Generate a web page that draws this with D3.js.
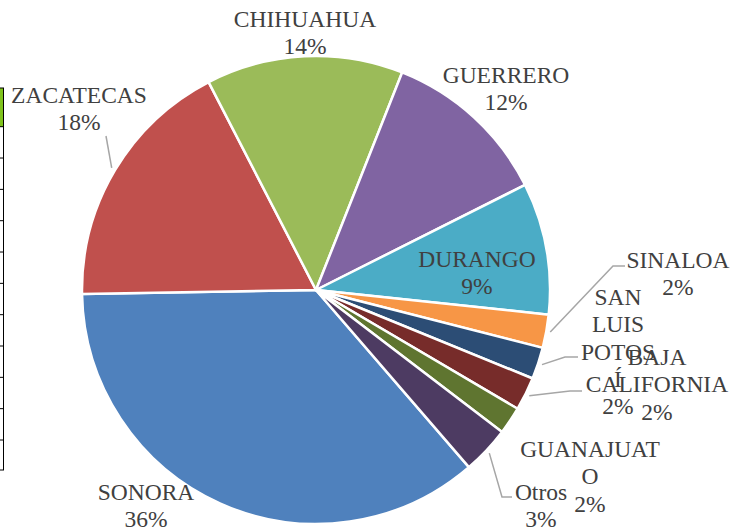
<!DOCTYPE html>
<html>
<head>
<meta charset="utf-8">
<script src="https://cdn.jsdelivr.net/npm/d3@7/dist/d3.min.js"></script>
<style>
  html, body { margin: 0; padding: 0; background: #ffffff; }
  svg { display: block; }
</style>
</head>
<body>
<svg id="chart" width="735" height="529"></svg>
<script>
// ---- data ----
const categories = ["SONORA", "ZACATECAS", "CHIHUAHUA", "GUERRERO", "DURANGO",
                    "SINALOA", "SAN LUIS POTOSÍ", "BAJA CALIFORNIA", "GUANAJUATO", "Otros"];
const values = [36.1, 17.7, 13.6, 11.6, 9.1, 2.3, 2.2, 2.3, 1.9, 3.3];
const labelLines = [
  ["SONORA"], ["ZACATECAS"], ["CHIHUAHUA"], ["GUERRERO"], ["DURANGO"],
  ["SINALOA"], ["SAN", "LUIS", "POTOS", "Í"], ["BAJA", "CALIFORNIA"],
  ["GUANAJUAT", "O"], ["Otros"]
];
const colors = ["#4F81BD", "#C0504D", "#9BBB59", "#8064A2", "#4BACC6",
                "#F79646", "#2C4D75", "#772C2A", "#5F7530", "#4D3B62"];

// ---- layout (positions kept separate from data) ----
const cx = 316, cy = 290, R = 234;
const startDeg = 139.2;
const labelLayout = [
  { x: 146, y: 500, leader: null },
  { x: 79,  y: 103, leader: "straight" },
  { x: 305, y: 27,  leader: null },
  { x: 506, y: 83,  leader: null },
  { x: 477, y: 267, leader: null },
  { x: 678, y: 268, leader: [[613, 266], [625, 266]] },
  { x: 618, y: 305, leader: [[565, 357], [578, 357]] },
  { x: 657, y: 365, leader: [[570, 391], [582, 391]] },
  { x: 590, y: 457, leader: null },
  { x: 541, y: 500, leader: [[502, 497], [512, 497]] }
];
const lineH = 27.3;
const FONT = "'Liberation Serif', 'Times New Roman', Times, 'DejaVu Serif', serif";

const svg = d3.select("#chart");

// left-edge artifact (cropped table border)
const art = svg.append("g");
art.append("rect").attr("x", 0).attr("y", 88).attr("width", 3).attr("height", 39).attr("fill", "#7fc31c");
art.append("line").attr("x1", 3.5).attr("x2", 3.5).attr("y1", 88).attr("y2", 470)
   .attr("stroke", "#000").attr("stroke-width", 1);
const tickYs = [88].concat(d3.range(11).map(i => 126.7 + i * 31.33)).concat([470]);
tickYs.forEach(y => {
  art.append("line").attr("x1", 0).attr("x2", 4).attr("y1", y).attr("y2", y)
     .attr("stroke", "#000").attr("stroke-width", 1);
});

const pie = d3.pie().sort(null).value(d => d)
  .startAngle(startDeg * Math.PI / 180)
  .endAngle(startDeg * Math.PI / 180 + 2 * Math.PI);
const arcs = pie(values);
const arc = d3.arc().innerRadius(0).outerRadius(R);
const total = d3.sum(values);

const g = svg.append("g").attr("transform", `translate(${cx},${cy})`);
g.selectAll("path").data(arcs).enter().append("path")
  .attr("d", arc)
  .attr("fill", (d, i) => colors[i])
  .attr("stroke", "#ffffff")
  .attr("stroke-width", 2.5)
  .attr("stroke-linejoin", "round");

// leaders
const edge = d3.arc().innerRadius(R + 4).outerRadius(R + 4);
arcs.forEach((d, i) => {
  const L = labelLayout[i];
  if (!L.leader) return;
  const [sx, sy] = edge.centroid(d);
  const start = [cx + sx, cy + sy];
  const pts = L.leader === "straight" ? [start, [L.x + 27, L.y + 33]] : [start].concat(L.leader);
  svg.append("path")
    .attr("d", d3.line()(pts))
    .attr("fill", "none")
    .attr("stroke", "#a6a6a6")
    .attr("stroke-width", 1.5);
});

// labels
arcs.forEach((d, i) => {
  const L = labelLayout[i];
  const pct = Math.round(values[i] / total * 100) + "%";
  const lines = labelLines[i].concat([pct]);
  const t = svg.append("text")
    .attr("text-anchor", "middle")
    .attr("font-family", FONT)
    .attr("fill", "#404040")
    .attr("font-size", 23.5);
  lines.forEach((s, k) => {
    t.append("tspan").attr("x", L.x).attr("y", L.y + k * lineH).text(s);
  });
});
</script>
</body>
</html>
